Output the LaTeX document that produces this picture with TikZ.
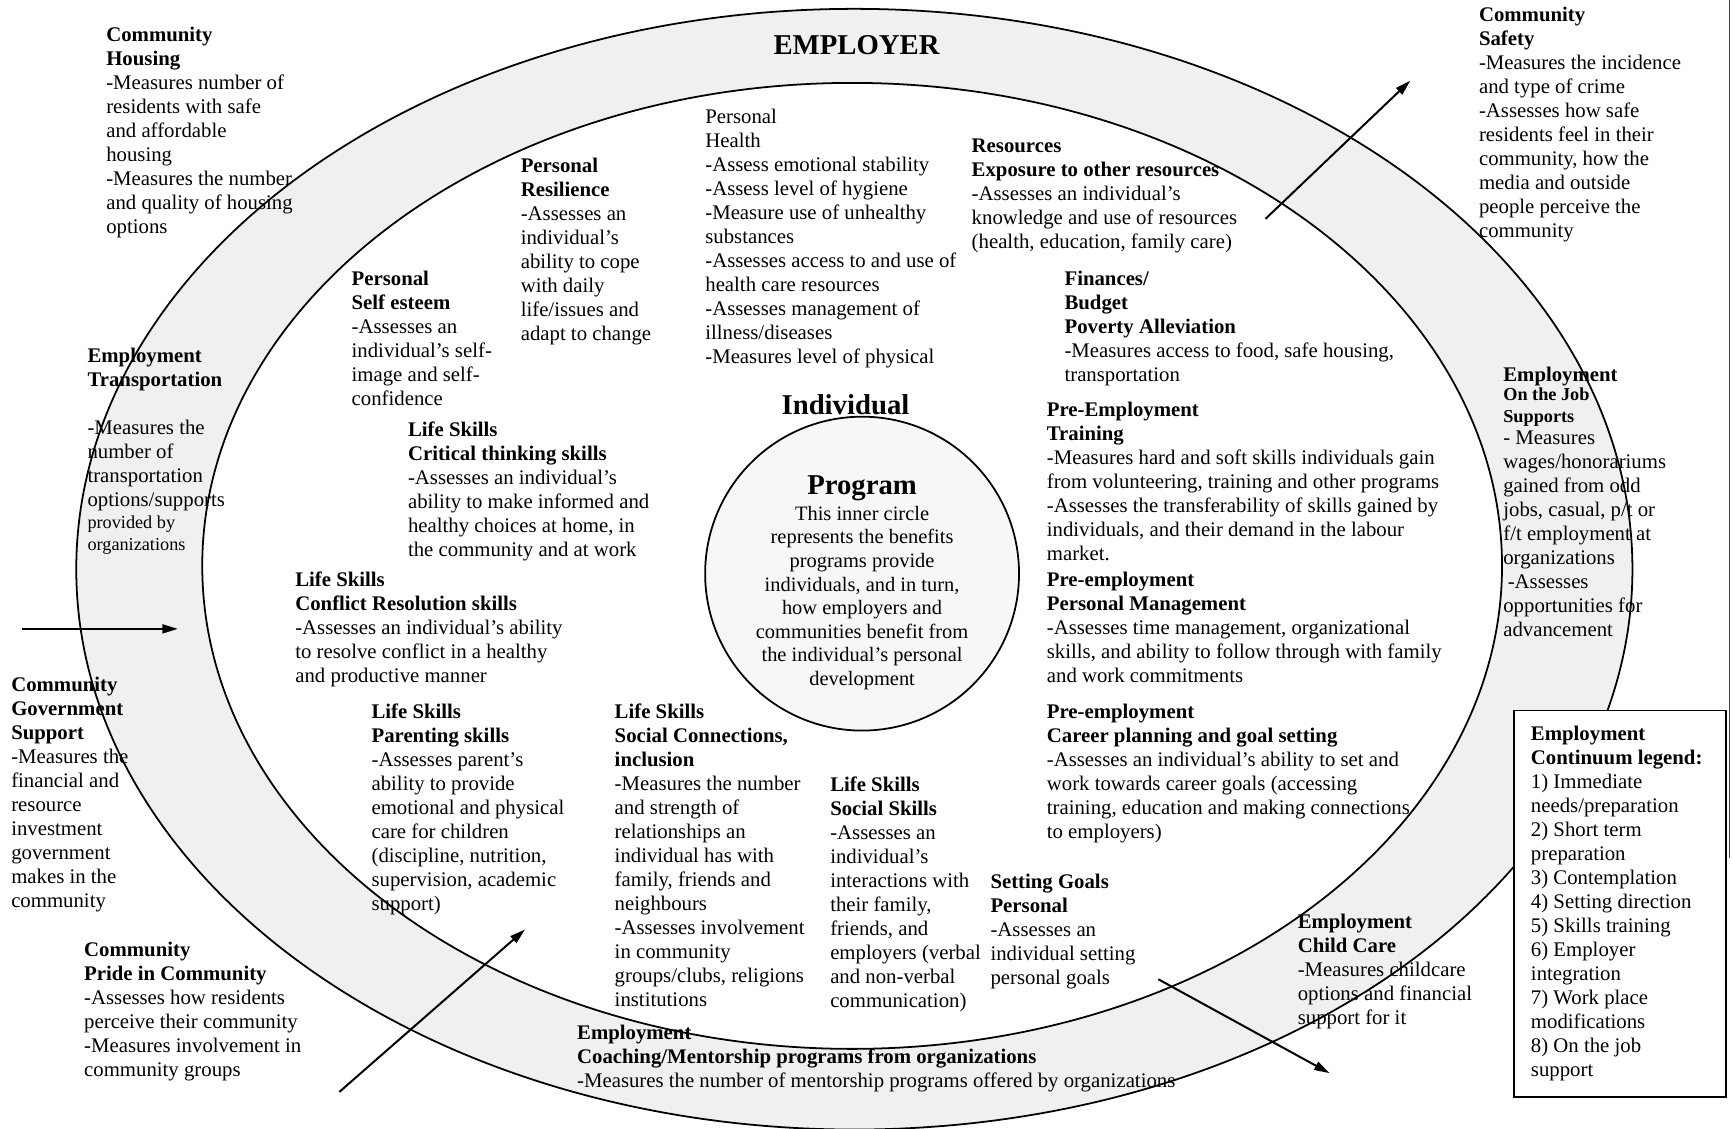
\documentclass[tikz,border=0pt]{standalone}
\usepackage{fontspec}
\setmainfont{Liberation Serif}
\usetikzlibrary{arrows.meta}

% type sizes used in the chart
\newcommand\bodysize{\fontsize{18.8}{21.7}\selectfont}
\newcommand\minorsize{\fontsize{16.5}{19.8}\selectfont}
\newcommand\titlesize{\fontsize{26}{30}\selectfont}

\tikzset{
  txt/.style={anchor=north west, align=left, inner sep=0pt, font=\bodysize,
              yshift=6.5pt, execute at begin node=\strut},
  minor/.style={txt, font=\minorsize, execute at begin node=\strut},
  title/.style={anchor=base, inner sep=0pt, font=\titlesize\bfseries},
  ring/.style={line width=1.6pt},
  band/.style={fill=black!6},
  core/.style={fill=black!3, line width=1.6pt},
  flow/.style={line width=1.8pt, -{Triangle[length=14pt,width=8pt]}},
  legendframe/.style={draw, line width=1.6pt, fill=white, anchor=north west,
                      inner sep=0pt, minimum width=192pt, minimum height=350pt},
}

\begin{document}
\begin{tikzpicture}[x=1pt, y=-1pt]
\fill[white] (0,0) rectangle (1568,1021);
\useasboundingbox (0,0) rectangle (1568,1021);

% the employer band between the two ovals
\fill[band, even odd rule]
  (773,515) ellipse [x radius=704, y radius=507]
  (771,512) ellipse [x radius=588, y radius=437];
\draw[ring] (773,515) ellipse [x radius=704, y radius=507];
\draw[ring] (771,512) ellipse [x radius=588, y radius=437];

% program circle
\draw[core] (780,519) circle [radius=142];

% page edge at the right
\draw[black!75, line width=1.4pt] (1565,0) -- (1565,776);

% headings
\node[title] (employer) at (775,49) {EMPLOYER};
\node[title] (individual) at (765,375) {Individual};
\node[title] (program) at (780,447.5) {Program};
\node[anchor=north, align=center, inner sep=0pt, font=\fontsize{18.5}{21.4}\selectfont,
      yshift=6.5pt, execute at begin node=\strut] (programtext) at (780,464)
  {This inner circle\\ represents the benefits\\ programs provide\\
   individuals, and in turn,\\ how employers and\\ communities benefit from\\
   the individual’s personal\\ development};

% community indicators (outside the ovals)
\node[txt] (housing) at (96,31)
  {\textbf{Community}\\ \textbf{Housing}\\ -Measures number of\\ residents with safe\\
   and affordable\\ housing\\ -Measures the number\\ and quality of housing\\ options};
\node[txt] (safety) at (1338,13)
  {\textbf{Community}\\ \textbf{Safety}\\ -Measures the incidence\\ and type of crime\\
   -Assesses how safe\\ residents feel in their\\ community, how the\\ media and outside\\
   people perceive the\\ community};
\node[txt] (government) at (10,619)
  {\textbf{Community}\\ \textbf{Government}\\ \textbf{Support}\\ -Measures the\\ financial and\\
   resource\\ investment\\ government\\ makes in the\\ community};
\node[txt] (pride) at (76,859)
  {\textbf{Community}\\ \textbf{Pride in Community}\\ -Assesses how residents\\
   perceive their community\\ -Measures involvement in\\ community groups};

% employment indicators (in the band)
\node[txt] (transport) at (79,321)
  {\textbf{Employment}\\ \textbf{Transportation}\\ \\ -Measures the\\ number of\\
   transportation\\ options/supports};
\node[minor] (transportb) at (79,473) {provided by\\ organizations};
\node[txt] (onjob) at (1360,336) {\textbf{Employment}};
\node[minor, font=\minorsize\bfseries] (onjobb) at (1360,357) {On the Job\\ Supports};
\node[txt] (onjobc) at (1360,396)
  {- Measures\\ wages/honorariums\\ gained from odd\\ jobs, casual, p/t or\\
   f/t employment at\\ organizations\\ \hspace{4pt}-Assesses\\ opportunities for\\ advancement};
\node[txt] (childcare) at (1174,833)
  {\textbf{Employment}\\ \textbf{Child Care}\\ -Measures childcare\\
   options and financial\\ support for it};
\node[txt] (coaching) at (522,934)
  {\textbf{Employment}\\ \textbf{Coaching/Mentorship programs from organizations}\\
   -Measures the number of mentorship programs offered by organizations};

% individual indicators (inside the inner oval)
\node[txt] (resilience) at (471,149)
  {\textbf{Personal}\\ \textbf{Resilience}\\ -Assesses an\\ individual’s\\ ability to cope\\
   with daily\\ life/issues and\\ adapt to change};
\node[txt] (health) at (638,105)
  {Personal\\ Health\\ -Assess emotional stability\\ -Assess level of hygiene\\
   -Measure use of unhealthy\\ substances\\ -Assesses access to and use of\\
   health care resources\\ -Assesses management of\\ illness/diseases\\
   -Measures level of physical};
\node[txt] (resources) at (879,132)
  {\textbf{Resources}\\ \textbf{Exposure to other resources}\\ -Assesses an individual’s\\
   knowledge and use of resources\\ (health, education, family care)};
\node[txt] (esteem) at (318,252)
  {\textbf{Personal}\\ \textbf{Self esteem}\\ -Assesses an\\ individual’s self-\\
   image and self-\\ confidence};
\node[txt] (finances) at (963,252)
  {\textbf{Finances/}\\ \textbf{Budget}\\ \textbf{Poverty Alleviation}\\
   -Measures access to food, safe housing,\\ transportation};
\node[txt] (critical) at (369,388)
  {\textbf{Life Skills}\\ \textbf{Critical thinking skills}\\ -Assesses an individual’s\\
   ability to make informed and\\ healthy choices at home, in\\ the community and at work};
\node[txt] (training) at (947,370)
  {\textbf{Pre-Employment}\\ \textbf{Training}\\
   -Measures hard and soft skills individuals gain\\
   from volunteering, training and other programs\\
   -Assesses the transferability of skills gained by\\
   individuals, and their demand in the labour\\ market.};
\node[txt] (conflict) at (267,524)
  {\textbf{Life Skills}\\ \textbf{Conflict Resolution skills}\\
   -Assesses an individual’s ability\\ to resolve conflict in a healthy\\
   and productive manner};
\node[txt] (management) at (947,524)
  {\textbf{Pre-employment}\\ \textbf{Personal Management}\\
   -Assesses time management, organizational\\
   skills, and ability to follow through with family\\ and work commitments};
\node[txt] (parenting) at (336,643)
  {\textbf{Life Skills}\\ \textbf{Parenting skills}\\ -Assesses parent’s\\
   ability to provide\\ emotional and physical\\ care for children\\
   (discipline, nutrition,\\ supervision, academic\\ support)};
\node[txt] (connections) at (556,643)
  {\textbf{Life Skills}\\ \textbf{Social Connections,}\\ \textbf{inclusion}\\
   -Measures the number\\ and strength of\\ relationships an\\ individual has with\\
   family, friends and\\ neighbours\\ -Assesses involvement\\ in community\\
   groups/clubs, religions\\ institutions};
\node[txt] (career) at (947,643)
  {\textbf{Pre-employment}\\ \textbf{Career planning and goal setting}\\
   -Assesses an individual’s ability to set and\\ work towards career goals (accessing\\
   training, education and making connections\\ to employers)};
\node[txt] (social) at (751,709)
  {\textbf{Life Skills}\\ \textbf{Social Skills}\\ -Assesses an\\ individual’s\\
   interactions with\\ their family,\\ friends, and\\ employers (verbal\\
   and non-verbal\\ communication)};
\node[txt] (goals) at (896,797)
  {\textbf{Setting Goals}\\ \textbf{Personal}\\ -Assesses an\\ individual setting\\ personal goals};

% legend
\node[legendframe] (legend) at (1369,642) {};
\node[txt] (legendtext) at (1385,663)
  {\textbf{Employment}\\ \textbf{Continuum legend:}\\ 1) Immediate\\ needs/preparation\\
   2) Short term\\ preparation\\ 3) Contemplation\\ 4) Setting direction\\
   5) Skills training\\ 6) Employer\\ integration\\ 7) Work place\\ modifications\\
   8) On the job\\ support};

% flow arrows across the band
\coordinate (w0) at (20,569);   \coordinate (w1) at (161,569);
\coordinate (ne0) at (1145,198); \coordinate (ne1) at (1276,73);
\coordinate (sw0) at (307,988);  \coordinate (sw1) at (475,841);
\coordinate (se0) at (1048,886); \coordinate (se1) at (1203,971);
\draw[flow] (w0) -- (w1);
\draw[flow] (ne0) -- (ne1);
\draw[flow] (sw0) -- (sw1);
\draw[flow] (se0) -- (se1);
\end{tikzpicture}
\end{document}
